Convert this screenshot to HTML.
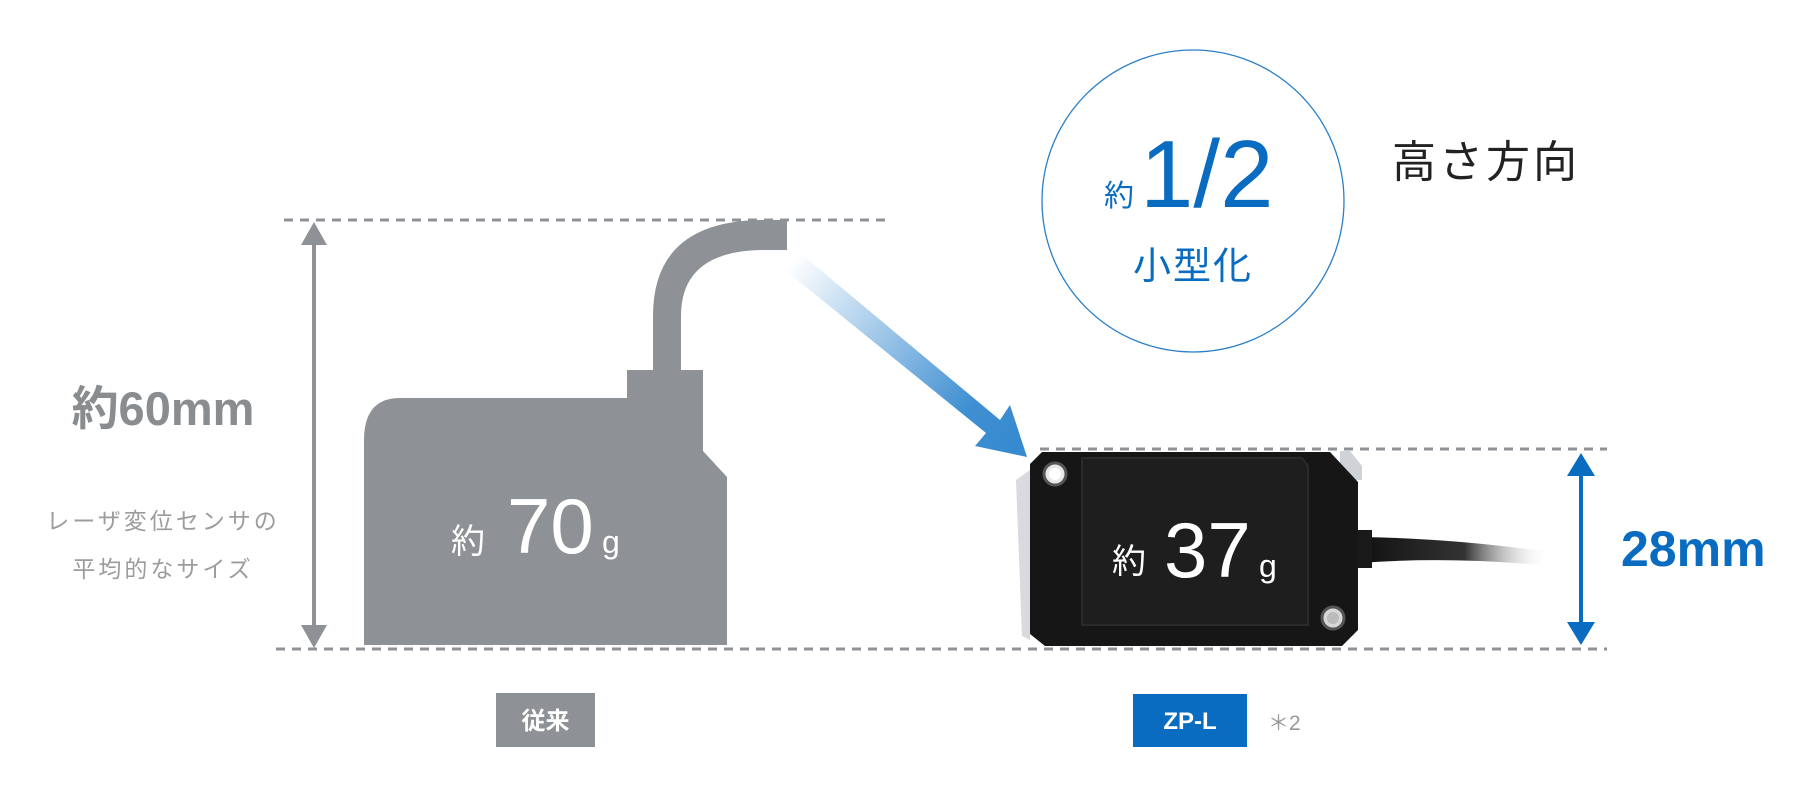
<!DOCTYPE html>
<html><head><meta charset="utf-8"><style>
html,body{margin:0;padding:0;background:#fff;}
svg{display:block;}
text{font-family:"Liberation Sans","Noto Sans CJK JP",sans-serif;}
</style></head><body>
<svg width="1812" height="799" viewBox="0 0 1812 799" xmlns="http://www.w3.org/2000/svg">
<defs>
<linearGradient id="ag" x1="792" y1="262" x2="1027" y2="457" gradientUnits="userSpaceOnUse">
<stop offset="0" stop-color="#3589cf" stop-opacity="0"/>
<stop offset="0.75" stop-color="#3589cf" stop-opacity="0.95"/>
<stop offset="1" stop-color="#3589cf"/>
</linearGradient>
<linearGradient id="cg" x1="1360" y1="0" x2="1550" y2="0" gradientUnits="userSpaceOnUse">
<stop offset="0" stop-color="#111"/>
<stop offset="0.55" stop-color="#333"/>
<stop offset="1" stop-color="#fff" stop-opacity="0"/>
</linearGradient>
</defs>
<g stroke="#8e9296" stroke-width="3" stroke-dasharray="9,7" fill="none">
<line x1="284" y1="220" x2="888" y2="220"/>
<line x1="276" y1="649" x2="1607" y2="649"/>
<line x1="1040" y1="449" x2="1607" y2="449"/>
</g>
<line x1="314" y1="240" x2="314" y2="630" stroke="#8e9296" stroke-width="4"/>
<polygon points="314,222 301,245 327,245" fill="#8e9296"/>
<polygon points="314,648 301,625 327,625" fill="#8e9296"/>
<text x="163" y="425" text-anchor="middle" font-size="47" font-weight="bold" fill="#8a8d90">約60mm</text>
<text x="163" y="529" text-anchor="middle" font-size="23" fill="#9a9c9e" letter-spacing="3">レーザ変位センサの</text>
<text x="163" y="577" text-anchor="middle" font-size="23" fill="#9a9c9e" letter-spacing="3">平均的なサイズ</text>
<path d="M364,645 L364,440 Q364,398 400,398 L627,398 L627,370 L653,370 L653,316 Q653,222 760,220 L787,220 L787,250 L760,250 Q681,252 681,316 L681,370 L703,370 L703,451 L727,477 L727,645 Z" fill="#8e9296"/>
<text x="451" y="553" font-size="34" fill="#fff">約</text>
<text x="507" y="553" font-size="78" fill="#fff">70</text>
<text x="602" y="553" font-size="32" fill="#fff">g</text>
<rect x="496" y="693" width="99" height="54" fill="#8e9296"/>
<text x="545.5" y="729" text-anchor="middle" font-size="24" font-weight="bold" fill="#fff">従来</text>
<polygon points="785,270 800,253 1000,420 1010,405 1027,457 975,446 986,433" fill="url(#ag)"/>
<circle cx="1193" cy="201" r="151" fill="none" stroke="#2a7fc8" stroke-width="1.3"/>
<text x="1104" y="206" font-size="30" fill="#0a6cc0">約</text>
<text x="1140" y="207" font-size="96" fill="#0a6cc0">1/2</text>
<text x="1193" y="279" text-anchor="middle" font-size="38" fill="#0a6cc0" letter-spacing="2">小型化</text>
<text x="1392" y="177" font-size="44" fill="#222" letter-spacing="3">高さ方向</text>
<path d="M1016,480 L1030,470 L1030,640 L1022,636 Z" fill="#d8dadd"/>
<path d="M1340,451 L1350,451 L1362,466 L1362,480 L1340,480 Z" fill="#cfd2d6"/>
<path d="M1360,537 Q1450,538 1550,552 L1550,566 Q1450,556 1360,563 Z" fill="url(#cg)"/>
<rect x="1350" y="530" width="22" height="38" fill="#1a1a1a"/>
<path d="M1042,452 L1330,452 L1358,482 L1358,630 L1342,646 L1045,646 L1030,634 L1030,464 Z" fill="#161616"/>
<path d="M1082,458 L1302,458 L1308,466 L1308,625 L1082,625 Z" fill="#1e1e1e" stroke="#2a2a2a" stroke-width="2"/>
<circle cx="1055" cy="474" r="11" fill="#e8e8e8" stroke="#555" stroke-width="3"/>
<circle cx="1055" cy="474" r="6" fill="#fff"/>
<circle cx="1333" cy="618" r="11" fill="#d8d8d8" stroke="#555" stroke-width="3"/>
<circle cx="1333" cy="618" r="6" fill="#bbb"/>
<text x="1112" y="573" font-size="34" fill="#fff">約</text>
<text x="1164" y="577" font-size="78" fill="#fff">37</text>
<text x="1259" y="577" font-size="32" fill="#fff">g</text>
<line x1="1581" y1="470" x2="1581" y2="630" stroke="#0a6cc0" stroke-width="4"/>
<polygon points="1581,453 1567,476 1595,476" fill="#0a6cc0"/>
<polygon points="1581,645 1567,622 1595,622" fill="#0a6cc0"/>
<text x="1621" y="566" font-size="50" font-weight="bold" fill="#0a6cc0">28mm</text>
<rect x="1133" y="694" width="114" height="53" fill="#0a6cc0"/>
<text x="1190" y="729" text-anchor="middle" font-size="24" font-weight="bold" fill="#fff">ZP-L</text>
<text x="1268" y="730" font-size="21" fill="#999">＊2</text>
</svg>
</body></html>
